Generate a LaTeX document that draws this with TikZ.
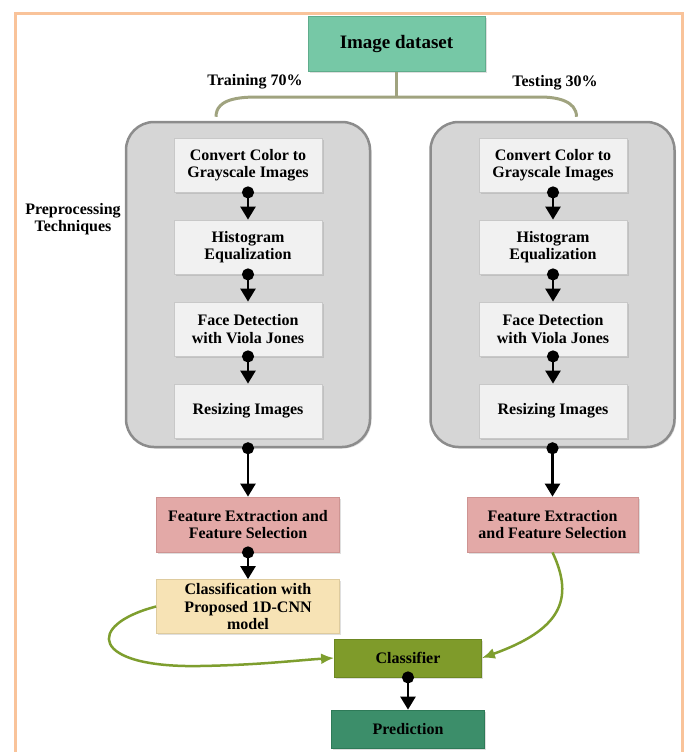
\documentclass[tikz,border=0pt]{standalone}
\usepackage{fontspec}
\setmainfont{Liberation Serif}
\usetikzlibrary{positioning,arrows.meta,shadows}

\definecolor{frameorange}{RGB}{249,195,154}
\definecolor{datagreen}{RGB}{118,200,166}
\definecolor{dataedge}{RGB}{96,172,140}
\definecolor{panelgray}{RGB}{214,214,214}
\definecolor{paneledge}{RGB}{140,140,140}
\definecolor{stepgray}{RGB}{241,241,241}
\definecolor{stepedge}{RGB}{200,200,200}
\definecolor{featpink}{RGB}{227,169,167}
\definecolor{featedge}{RGB}{206,148,146}
\definecolor{cnnyellow}{RGB}{247,227,181}
\definecolor{cnnedge}{RGB}{222,203,158}
\definecolor{clfolive}{RGB}{127,155,42}
\definecolor{clfedge}{RGB}{108,135,34}
\definecolor{predgreen}{RGB}{60,142,106}
\definecolor{prededge}{RGB}{46,122,88}
\definecolor{splitline}{RGB}{160,163,127}
\definecolor{curveolive}{RGB}{126,158,46}

\begin{document}
\begin{tikzpicture}[x=1pt,y=1pt,node distance=82pt,font=\bfseries\fontsize{16}{17.5}\selectfont,
    box node/.style={draw,align=center,inner sep=2pt,drop shadow={shadow xshift=1.5pt,shadow yshift=-1.5pt,opacity=0.25}},
    data node/.style={box node,fill=datagreen,draw=dataedge,line width=1pt,minimum width=177pt,minimum height=55pt,font=\bfseries\fontsize{19}{20}\selectfont},
    panel node/.style={box node,fill=panelgray,draw=paneledge,line width=2.5pt,rounded corners=28pt,minimum width=244pt,minimum height=325pt},
    inner node/.style={box node,fill=stepgray,draw=stepedge,line width=0.8pt,minimum width=148pt,minimum height=54pt},
    feature node/.style={box node,fill=featpink,draw=featedge,line width=0.8pt,minimum width=183pt,minimum height=55pt},
    cnn node/.style={box node,fill=cnnyellow,draw=cnnedge,line width=0.8pt,minimum width=183pt,minimum height=54pt},
    classifier node/.style={box node,fill=clfolive,draw=clfedge,line width=0.8pt,minimum width=147pt,minimum height=38pt},
    predict node/.style={box node,fill=predgreen,draw=prededge,line width=0.8pt,minimum width=153pt,minimum height=38pt},
    label node/.style={align=center,inner sep=0pt},
    flow/.style={line width=2.5pt,shorten <=-6pt,{Circle[length=12pt]}-{Triangle[length=13pt,width=15pt]}},
    curve/.style={line width=2.5pt,draw=curveolive,-{Latex[length=13pt,width=11pt]}},
    split/.style={line width=3pt,draw=splitline}]
    \useasboundingbox (0,0) rectangle (685,-752);
    \draw[frameorange,line width=3pt] (15,-770) |- (682,-14) -- (682,-770);

    \node[data node] (data) at (396.5,-44.5) {Image dataset};
    \node[label node] (train) at (255,-82) {Training 70\%};
    \node[label node] (test) at (555,-83) {Testing 30\%};

    \node[panel node] (pl) at (248,-284.5) {};
    \node[panel node] (pr) at (552.5,-284.5) {};
    \node[label node] (pre) at (73,-219) {Preprocessing\\Techniques};

    \node[inner node] (l1) at (248,-165) {Convert Color to\\Grayscale Images};
    \node[inner node] (l2) [below of = l1] {Histogram\\Equalization};
    \node[inner node] (l3) [below of = l2] {Face Detection\\with Viola Jones};
    \node[inner node] (l4) [below of = l3] {Resizing Images};

    \node[inner node] (r1) at (553,-165) {Convert Color to\\Grayscale Images};
    \node[inner node] (r2) [below of = r1] {Histogram\\Equalization};
    \node[inner node] (r3) [below of = r2] {Face Detection\\with Viola Jones};
    \node[inner node] (r4) [below of = r3] {Resizing Images};

    \node[feature node] (fl) at (248,-524.5) {Feature Extraction and\\Feature Selection};
    \node[feature node,minimum width=171pt] (fr) at (552.5,-524.5) {Feature Extraction\\and Feature Selection};
    \node[cnn node] (cnn) [below of = fl] {Classification with\\Proposed 1D-CNN\\model};
    \node[classifier node] (clf) at (408,-658) {Classifier};
    \node[predict node] (pred) [below of = clf, yshift = 11pt] {Prediction};

    \coordinate (fork) at ([yshift=-25pt]data.south);
    \draw[split] (data.south) -- (fork);
    \draw[split] ([xshift=-32pt,yshift=4pt]pl.north) to[out=90,in=180] (258,-97) -- (540,-97) to[out=0,in=90] ([xshift=24pt,yshift=4pt]pr.north);

    \path[flow]
        (l1) edge (l2)
        (l2) edge (l3)
        (l3) edge (l4)
        (r1) edge (r2)
        (r2) edge (r3)
        (r3) edge (r4)
        (pl) edge (fl)
        (pr) edge (fr)
        (fl) edge (cnn)
        (clf) edge (pred)
        ;

    \draw[curve] (cnn.west) .. controls (85,-625) and (90,-668) .. (200,-666) .. controls (260,-665) and (300,-660) .. (clf.west);
    \draw[curve] (fr.south) .. controls (575,-600) and (560,-630) .. (clf.east);
\end{tikzpicture}
\end{document}
